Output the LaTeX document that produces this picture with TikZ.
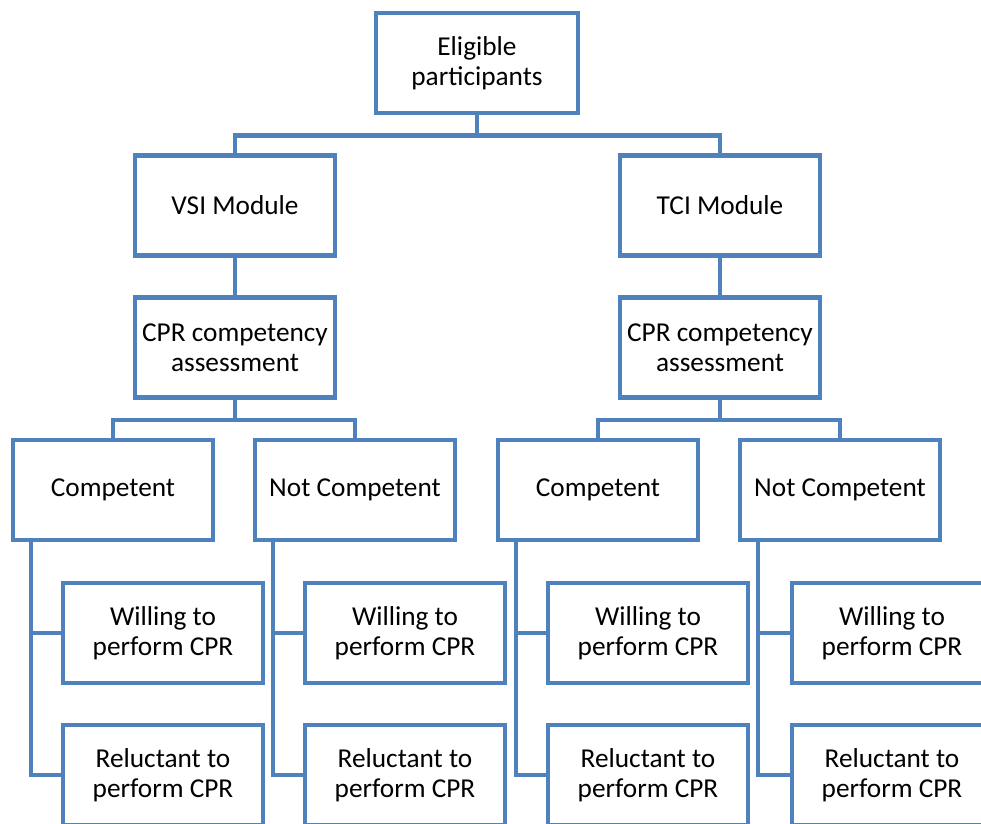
\documentclass[tikz,border=0pt]{standalone}
\usepackage{fontspec}
\setmainfont{Carlito}
\usepackage{tikz}
\usetikzlibrary{positioning,calc}
\usepackage{xcolor}
\definecolor{boxblue}{RGB}{79,129,189}

\begin{document}
\begin{tikzpicture}[x=1pt,y=-1pt,
    box/.style={draw=boxblue,line width=4.5pt,fill=white,minimum width=200pt,minimum height=100pt,
                inner sep=2pt,align=center,font=\fontsize{27.3}{30}\selectfont},
    link/.style={draw=boxblue,line width=4.5pt}]
                    \useasboundingbox (0,0) rectangle (981,823);
                    \clip (0,0) rectangle (981,823);
                    
                    % Top box
                    \node[box,minimum width=202pt] (elig) at (477,63) {Eligible\\participants};
                    
                    % Modules
                    \node[box] (vsi) at (235,205.5) {VSI Module};
                    \node[box] (tci) at (720,205.5) {TCI Module};
                    
                    % Assessments
                    \node[box] (cprL) at (235,347.5) {CPR competency\\assessment};
                    \node[box] (cprR) at (720,347.5) {CPR competency\\assessment};
                    
                    % Outcomes
                    \node[box] (compL) at (113,490) {Competent};
                    \node[box] (notL) at (355,490) {Not Competent};
                    \node[box] (compR) at (598,490) {Competent};
                    \node[box] (notR) at (840,490) {Not Competent};
                    
                    % Willingness (left module)
                    \node[box] (willA) at (163,633) {Willing to\\perform CPR};
                    \node[box] (relA) at (163,775) {Reluctant to\\perform CPR};
                    \node[box] (willB) at (405,633) {Willing to\\perform CPR};
                    \node[box] (relB) at (405,775) {Reluctant to\\perform CPR};
                    
                    % Willingness (right module)
                    \node[box] (willC) at (648,633) {Willing to\\perform CPR};
                    \node[box] (relC) at (648,775) {Reluctant to\\perform CPR};
                    \node[box] (willD) at (892,633) {Willing to\\perform CPR};
                    \node[box] (relD) at (892,775) {Reluctant to\\perform CPR};
                    
                    % Tree links
                    \draw[link] (elig.south) -- ++(0,20) -| (vsi.north);
                    \draw[link] (elig.south) -- ++(0,20) -| (tci.north);
                    \draw[link] (vsi.south) -- (cprL.north);
                    \draw[link] (tci.south) -- (cprR.north);
                    \draw[link] (cprL.south) -- ++(0,20) -| (compL.north);
                    \draw[link] (cprL.south) -- ++(0,20) -| (notL.north);
                    \draw[link] (cprR.south) -- ++(0,20) -| (compR.north);
                    \draw[link] (cprR.south) -- ++(0,20) -| (notR.north);
                    
                    % Side links
                    \draw[link] ([xshift=20pt]compL.south west) |- (willA.west);
                    \draw[link] ([xshift=20pt]compL.south west) |- (relA.west);
                    \draw[link] ([xshift=20pt]notL.south west) |- (willB.west);
                    \draw[link] ([xshift=20pt]notL.south west) |- (relB.west);
                    \draw[link] ([xshift=20pt]compR.south west) |- (willC.west);
                    \draw[link] ([xshift=20pt]compR.south west) |- (relC.west);
                    \draw[link] ([xshift=20pt]notR.south west) |- (willD.west);
                    \draw[link] ([xshift=20pt]notR.south west) |- (relD.west);
                \end{tikzpicture}
\end{document}
